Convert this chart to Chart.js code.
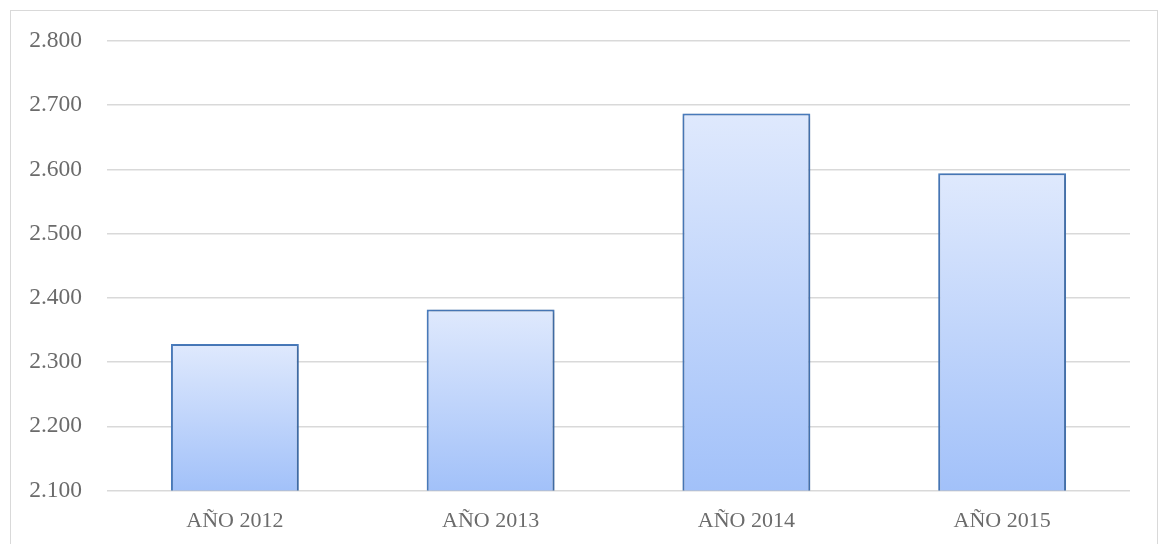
<!DOCTYPE html>
<html>
<head>
<meta charset="utf-8">
<script src="https://cdn.jsdelivr.net/npm/chart.js@4.4.0/dist/chart.umd.min.js"></script>
<style>
	html, body { margin: 0; padding: 0; background: #fff; overflow: hidden; }
	#wrap { position: relative; width: 1158px; height: 544px; }
	#frame { position: absolute; left: 10px; top: 10px; width: 1148px; height: 600px;
		border: 1.5px solid #d9d9d9; box-sizing: border-box; }
	canvas { position: absolute; left: 0; top: 0; }
</style>
</head>
<body>
<div id="wrap">
	<div id="frame"></div>
	<canvas id="myChart" width="1158" height="544"></canvas>
</div>
<script>
var years = ["AÑO 2012", "AÑO 2013", "AÑO 2014", "AÑO 2015"];
var totals = [2328, 2382, 2687, 2594];
var yTicks = [2100, 2200, 2300, 2400, 2500, 2600, 2700, 2800];

// dotted thousands like "2.800"
function fmt(v){
	var s = String(v);
	return s.length > 3 ? s.slice(0, s.length - 3) + "." + s.slice(-3) : s;
}

// each bar gets its own gradient, light at its top, darker at the base
function barFill(context){
	var chart = context.chart, area = chart.chartArea;
	if (!area || context.type !== "data") return "#c0d4fa";
	var top = chart.scales.y.getPixelForValue(context.raw);
	var g = chart.ctx.createLinearGradient(0, top, 0, area.bottom);
	g.addColorStop(0, "#dfe9fd");
	g.addColorStop(1, "#a2c1f9");
	return g;
}

// soft shadow under the bars like the office look
var barShadow = {
	id: "barShadow",
	beforeDatasetsDraw: function(chart){
		var ctx = chart.ctx;
		ctx.save();
		ctx.shadowColor = "rgba(0,0,0,0.25)";
		ctx.shadowBlur = 4;
		ctx.shadowOffsetX = 1;
		ctx.shadowOffsetY = 1;
	},
	afterDatasetsDraw: function(chart){
		chart.ctx.restore();
	}
};

var serif = "'Liberation Serif', 'Times New Roman', serif";

var ctx = document.getElementById("myChart").getContext("2d");
new Chart(ctx, {
	type: "bar",
	data: {
		labels: years,
		datasets: [{
			data: totals,
			backgroundColor: barFill,
			borderColor: "#4a7dbf",
			borderWidth: 2,
			borderSkipped: "bottom",
			categoryPercentage: 1,
			barPercentage: 0.5
		}]
	},
	options: {
		responsive: false,
		animation: false,
		layout: { padding: { top: 41, right: 28, left: 0, bottom: 0 } },
		plugins: { legend: { display: false }, tooltip: { enabled: false } },
		scales: {
			x: {
				grid: { display: false, drawTicks: false },
				border: { display: false },
				ticks: { color: "#6b6b6b", padding: 18, font: { family: serif, size: 22 } },
				afterFit: function(s){ s.height = 53.5; }
			},
			y: {
				min: yTicks[0],
				max: yTicks[yTicks.length - 1],
				afterBuildTicks: function(s){ s.ticks = yTicks.map(function(v){ return {value: v}; }); },
				grid: { color: "#d9d9d9", lineWidth: 1.5, drawTicks: false },
				border: { display: false },
				ticks: { color: "#6b6b6b", padding: 25, font: { family: serif, size: 23.5 },
					callback: function(v){ return fmt(v); } },
				afterFit: function(s){ s.width = 107; }
			}
		}
	},
	plugins: [barShadow]
});
</script>
</body>
</html>
